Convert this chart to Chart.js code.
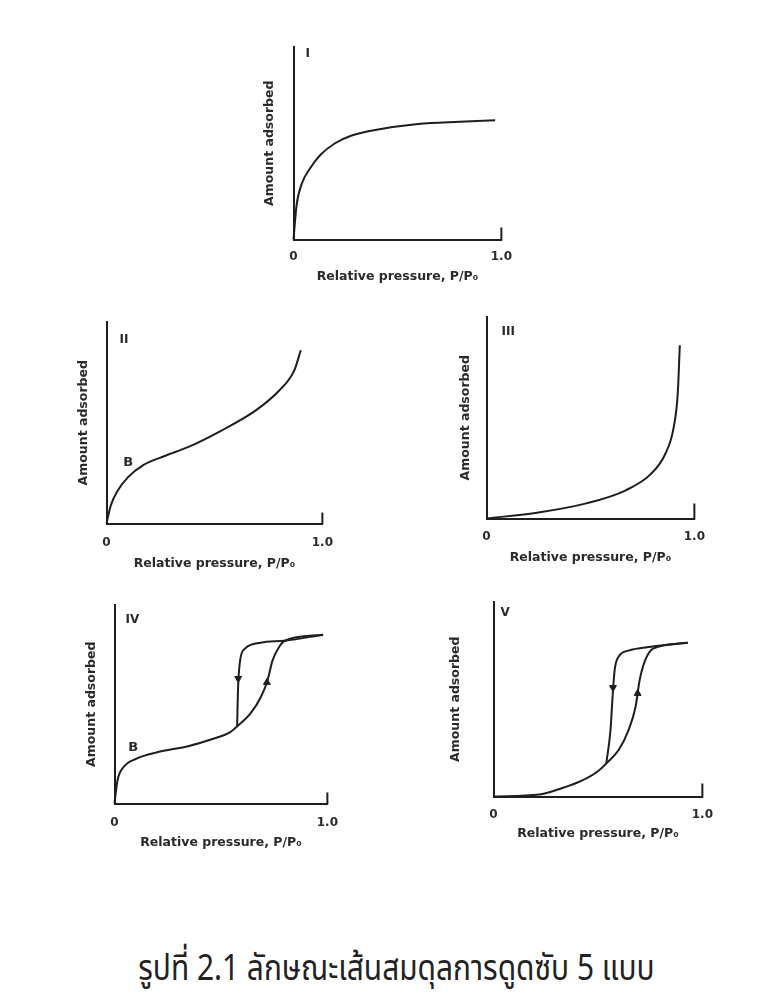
<!DOCTYPE html>
<html lang="th">
<head>
  <meta charset="UTF-8" />
  <title>Adsorption isotherms, types I-V</title>
  <script src="https://cdn.jsdelivr.net/npm/chart.js"></script>
  <style>
    body { margin: 0; width: 769px; height: 993px; position: relative; overflow: hidden; background: #fff; }
    canvas { position: absolute; }
    .caption {
      position: absolute; left: 12px; width: 769px; top: 951px;
      text-align: center; font-size: 36px; line-height: 1; color: #222;
      transform: scaleX(0.83); transform-origin: 384px 0;
      font-family: "Noto Sans Thai", "Loma", "Garuda", "Noto Sans", sans-serif;
      white-space: nowrap;
    }
  </style>
</head>
<body>
  <canvas id="c1"></canvas>
  <canvas id="c2"></canvas>
  <canvas id="c3"></canvas>
  <canvas id="c4"></canvas>
  <canvas id="c5"></canvas>
  <div class="caption">รูปที่ 2.1 ลักษณะเส้นสมดุลการดูดซับ 5 แบบ</div>

  <script>
    // axis ticks
    const xTicks = [0, 1];
    const xTickLabels = ['0', '1.0'];
    const xTitle = 'Relative pressure, P/P\u2080';
    const yTitle = 'Amount adsorbed';

    // type I
    const typeIx = [0, 0.015, 0.04, 0.08, 0.13, 0.2, 0.28, 0.4, 0.6, 0.8, 0.97];
    const typeIy = [0, 0.18, 0.29, 0.37, 0.44, 0.5, 0.54, 0.57, 0.6, 0.612, 0.62];

    // type II
    const typeIIx = [0, 0.02, 0.05, 0.10, 0.17, 0.27, 0.38, 0.53, 0.69, 0.80, 0.87, 0.90];
    const typeIIy = [0, 0.09, 0.16, 0.23, 0.29, 0.335, 0.38, 0.46, 0.56, 0.66, 0.76, 0.86];

    // type III
    const typeIIIx = [0, 0.25, 0.48, 0.67, 0.79, 0.86, 0.9, 0.92, 0.93];
    const typeIIIy = [0, 0.03, 0.075, 0.14, 0.22, 0.32, 0.45, 0.62, 0.86];

    // type IV, adsorption and desorption branches
    const typeIVadsX = [0, 0.014, 0.04, 0.106, 0.20, 0.35, 0.475, 0.535, 0.571, 0.64, 0.687, 0.719, 0.742, 0.774, 0.80, 0.98];
    const typeIVadsY = [0, 0.116, 0.18, 0.227, 0.258, 0.29, 0.33, 0.354, 0.384, 0.455, 0.535, 0.62, 0.72, 0.79, 0.82, 0.85];
    const typeIVdesX = [0.576, 0.58, 0.59, 0.613, 0.687, 0.80, 0.98];
    const typeIVdesY = [0.384, 0.57, 0.72, 0.78, 0.81, 0.82, 0.85];
    const typeIVarrowX = [0.581, 0.716];
    const typeIVarrowY = [0.63, 0.61];
    const typeIVarrowDir = [180, 0];

    // type V
    const typeVadsX = [0, 0.22, 0.32, 0.42, 0.50, 0.54, 0.60, 0.646, 0.68, 0.70, 0.726, 0.764, 0.93];
    const typeVadsY = [0, 0.01, 0.04, 0.08, 0.13, 0.17, 0.24, 0.34, 0.46, 0.60, 0.70, 0.76, 0.79];
    const typeVdesX = [0.54, 0.56, 0.57, 0.58, 0.60, 0.646, 0.755, 0.93];
    const typeVdesY = [0.17, 0.34, 0.51, 0.65, 0.72, 0.75, 0.77, 0.79];
    const typeVarrowX = [0.572, 0.69];
    const typeVarrowY = [0.56, 0.53];
    const typeVarrowDir = [180, 0];

    // point B labels
    const pointB_II = [0.10, 0.30];
    const pointB_IV = [0.088, 0.28];

    const INK = '#1e1e1e';
    const TEXT = '#2a2a2a';
    const FONT = '"DejaVu Sans", sans-serif';

    const pts = (xs, ys) => xs.map((x, i) => ({ x: x, y: ys[i] }));

    const curve = (xs, ys) => ({
      data: pts(xs, ys), showLine: true, pointRadius: 0, borderWidth: 2,
      borderColor: INK, cubicInterpolationMode: 'monotone', fill: false, clip: false
    });

    const arrows = (xs, ys, dir) => ({
      data: pts(xs, ys), showLine: false, pointStyle: 'triangle', pointRadius: 4,
      rotation: dir, backgroundColor: INK, borderColor: INK, borderWidth: 1, clip: false
    });

    // roman numeral, point B and the little end tick at 1.0
    const extras = {
      id: 'extras',
      afterDatasetsDraw(chart, args, o) {
        const { ctx, chartArea: a, scales: { x, y } } = chart;
        ctx.save();
        ctx.strokeStyle = INK;
        ctx.lineWidth = 2;
        const px = x.getPixelForValue(1), py = y.getPixelForValue(0);
        ctx.beginPath();
        ctx.moveTo(px, py + 1);
        ctx.lineTo(px, py - o.tick);
        ctx.stroke();
        ctx.fillStyle = TEXT;
        ctx.font = 'bold 12px ' + FONT;
        ctx.textAlign = 'left';
        ctx.textBaseline = 'middle';
        ctx.fillText(o.numeral, a.left + o.nx, a.top + o.ny);
        if (o.b) {
          ctx.font = 'bold 13px ' + FONT;
          ctx.textAlign = 'center';
          ctx.fillText('B', x.getPixelForValue(o.b[0]), y.getPixelForValue(o.b[1]));
        }
        ctx.restore();
      }
    };

    function panel(id, box, datasets, opt) {
      const [l, t, r, b] = box;
      const titleLH = 12.5 * 1.2;
      const wy = opt.dy + titleLH / 2 + 2;
      const hx = opt.dx + titleLH / 2 + 2;
      const padT = 8, padR = 18;
      const cv = document.getElementById(id);
      cv.width = Math.round(r - l + wy + padR);
      cv.height = Math.round(b - t + padT + hx);
      cv.style.left = Math.round(l - wy) + 'px';
      cv.style.top = (t - padT) + 'px';

      new Chart(cv, {
        type: 'scatter',
        data: { datasets: datasets },
        options: {
          responsive: false,
          animation: false,
          events: [],
          layout: { autoPadding: false, padding: { top: padT, right: padR, left: 0, bottom: 0 } },
          plugins: {
            legend: { display: false },
            tooltip: { enabled: false },
            extras: { numeral: opt.numeral, nx: opt.nx, ny: opt.ny, tick: opt.tick, b: opt.b }
          },
          scales: {
            x: {
              type: 'linear', min: 0, max: 1,
              afterBuildTicks: s => { s.ticks = xTicks.map(v => ({ value: v })); },
              afterFit: s => { s.height = hx; },
              grid: { display: false, drawTicks: false },
              border: { display: true, color: INK, width: 2 },
              ticks: {
                padding: opt.tp, color: TEXT, font: { family: FONT, size: 12, weight: 'bold' },
                maxRotation: 0,
                callback: v => xTickLabels[xTicks.indexOf(v)]
              },
              title: {
                display: true, text: xTitle, color: TEXT,
                font: { family: FONT, size: 12.5, weight: 'bold' },
                padding: { top: 0, bottom: 2 }
              }
            },
            y: {
              type: 'linear', min: 0, max: 1,
              afterFit: s => { s.width = wy; },
              grid: { display: false, drawTicks: false },
              border: { display: true, color: INK, width: 2 },
              ticks: { display: false },
              title: {
                display: true, text: yTitle, color: TEXT,
                font: { family: FONT, size: 12.5, weight: 'bold' },
                padding: { top: 2, bottom: 0 }
              }
            }
          }
        },
        plugins: [extras]
      });
    }

    panel('c1', [293, 47, 503, 239], [curve(typeIx, typeIy)],
      { dy: 24, dx: 37, tp: 10, numeral: 'I', nx: 12, ny: 7, tick: 12 });

    panel('c2', [106, 322, 326, 523], [curve(typeIIx, typeIIy)],
      { dy: 23, dx: 40, tp: 12, numeral: 'II', nx: 13, ny: 18, tick: 11, b: pointB_II });

    panel('c3', [486, 317, 697, 518], [curve(typeIIIx, typeIIIy)],
      { dy: 21, dx: 39, tp: 11, numeral: 'III', nx: 15, ny: 15, tick: 15 });

    panel('c4', [114, 605, 331, 803],
      [curve(typeIVadsX, typeIVadsY), curve(typeIVdesX, typeIVdesY), arrows(typeIVarrowX, typeIVarrowY, typeIVarrowDir)],
      { dy: 23, dx: 39, tp: 12, numeral: 'IV', nx: 11, ny: 15, tick: 11, b: pointB_IV });

    panel('c5', [493, 602, 705, 796],
      [curve(typeVadsX, typeVadsY), curve(typeVdesX, typeVdesY), arrows(typeVarrowX, typeVarrowY, typeVarrowDir)],
      { dy: 38, dx: 37, tp: 11, numeral: 'V', nx: 7, ny: 11, tick: 13 });
  </script>
</body>
</html>
